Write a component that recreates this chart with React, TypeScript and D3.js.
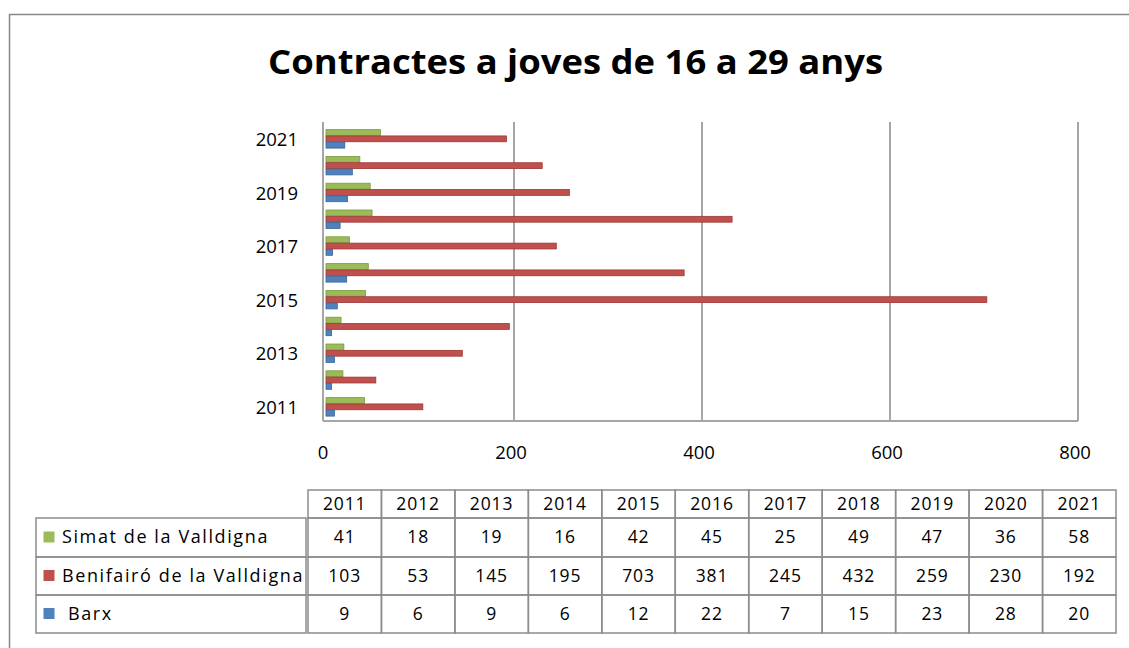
import React from "react";
import * as d3 from "d3";

const years = ["2011", "2012", "2013", "2014", "2015", "2016", "2017", "2018", "2019", "2020", "2021"];
const seriesNames = ["Simat de la Valldigna", "Benifairó de la Valldigna", "Barx"];
const simat = [41, 18, 19, 16, 42, 45, 25, 49, 47, 36, 58];
const benifairo = [103, 53, 145, 195, 703, 381, 245, 432, 259, 230, 192];
const barx = [9, 6, 9, 6, 12, 22, 7, 15, 23, 28, 20];
const seriesColors = ["#9BBB59", "#C0504D", "#4F81BD"];
const seriesStrokes = ["#7a9a3e", "#9c3634", "#3a6598"];
const xTicks = [0, 200, 400, 600, 800];
const yTickLabels = ["2011", "2013", "2015", "2017", "2019", "2021"];
const title = "Contractes a joves de 16 a 29 anys";

const W = 1129;
const H = 648;
const FONT = "'Open Sans', 'DejaVu Sans', sans-serif";

export default function App() {
  const allSeries = [simat, benifairo, barx];
  const x = d3.scaleLinear().domain([0, 800]).range([326, 1078]);
  const y = d3.scaleBand().domain([...years].reverse()).range([125.6, 420.4]).paddingInner(0).paddingOuter(0);
  const inner = d3.scaleBand().domain(["0", "1", "2"]).range([4, 23]).paddingInner(0);
  const plotTop = 122;
  const floorY = 421;

  // table geometry
  const colX = d3.scaleBand().domain(years).range([308, 1116]);
  const headerTop = 490;
  const rowTops = [518, 557, 595];
  const labelLeft = 36;
  const tableBottom = 633;
  const gridColor = "#a6a6a6";
  const tableLine = "#8c8c8c";
  const tableFont = 17.5;
  const tableSpacing = 0.9;

  return (
    <svg width={W} height={H} style={{ position: "absolute", left: 0, top: 0, display: "block" }} xmlns="http://www.w3.org/2000/svg">
      <rect x={0} y={0} width={W} height={H} fill="#fff" />
      <rect x={9.5} y={14.5} width={W + 20} height={H + 20} fill="none" stroke="#888" strokeWidth={1.5} />
      <text x={575.5} y={74} textAnchor="middle" fontFamily={FONT} fontWeight="bold" fontSize={34} textLength={615} lengthAdjust="spacingAndGlyphs" fill="#000">
        {title}
      </text>

      {/* grid lines */}
      {xTicks.slice(1).map((t) => (
        <line key={t} x1={x(t)} x2={x(t)} y1={plotTop} y2={floorY} stroke={gridColor} strokeWidth={2} />
      ))}
      {/* wall */}
      <line x1={x(0) - 3} x2={x(0) - 3} y1={plotTop} y2={floorY} stroke={gridColor} strokeWidth={2} />
      {/* floor */}
      <line x1={x(0) - 3} x2={x(800)} y1={floorY} y2={floorY} stroke={gridColor} strokeWidth={2} />

      {/* bars */}
      {years.map((yr, i) => (
        <g key={yr}>
          {allSeries.map((s, k) => (
            <rect
              key={k}
              x={x(0)}
              y={(y(yr) as number) + (inner(String(k)) as number)}
              width={x(s[i]) - x(0)}
              height={inner.bandwidth() - 0.5}
              fill={seriesColors[k]}
              stroke={seriesStrokes[k]}
              strokeWidth={0.8}
            />
          ))}
        </g>
      ))}

      {/* x tick labels */}
      {xTicks.map((t) => (
        <text key={t} x={x(t) - 3} y={459} textAnchor="middle" fontFamily={FONT} fontSize={18.5} fill="#000">
          {t}
        </text>
      ))}
      {/* y tick labels */}
      {yTickLabels.map((yr) => (
        <text key={yr} x={298} y={(y(yr) as number) + y.bandwidth() / 2 + 2} textAnchor="end" dominantBaseline="middle" fontFamily={FONT} fontSize={18.5} fill="#000">
          {yr}
        </text>
      ))}

      {/* data table */}
      <g>
        {years.map((yr) => (
          <g key={yr}>
            <rect x={colX(yr)} y={headerTop} width={colX.bandwidth()} height={rowTops[0] - headerTop} fill="none" stroke={tableLine} strokeWidth={1.5} />
            <text x={(colX(yr) as number) + colX.bandwidth() / 2} y={(headerTop + rowTops[0]) / 2 + 1} textAnchor="middle" dominantBaseline="middle" fontFamily={FONT} fontSize={tableFont} letterSpacing={tableSpacing} fill="#000">
              {yr}
            </text>
          </g>
        ))}
        {allSeries.map((s, k) => {
          const top = rowTops[k];
          const h = k < 2 ? rowTops[k + 1] - top : tableBottom - top;
          return (
            <g key={k}>
              <rect x={labelLeft} y={top} width={306 - labelLeft} height={h} fill="none" stroke={tableLine} strokeWidth={1.5} />
              <rect x={43.5} y={top + h / 2 - 6} width={11} height={11} fill={seriesColors[k]} />
              <text x={k === 2 ? 68 : 62} y={top + h / 2 + 1} dominantBaseline="middle" fontFamily={FONT} fontSize={18} letterSpacing={1.6} fill="#000">
                {seriesNames[k]}
              </text>
              {years.map((yr, i) => (
                <g key={yr}>
                  <rect x={colX(yr)} y={top} width={colX.bandwidth()} height={h} fill="none" stroke={tableLine} strokeWidth={1.5} />
                  <text x={(colX(yr) as number) + colX.bandwidth() / 2} y={top + h / 2 + 1} textAnchor="middle" dominantBaseline="middle" fontFamily={FONT} fontSize={tableFont} letterSpacing={tableSpacing} fill="#000">
                    {s[i]}
                  </text>
                </g>
              ))}
            </g>
          );
        })}
      </g>
    </svg>
  );
}
